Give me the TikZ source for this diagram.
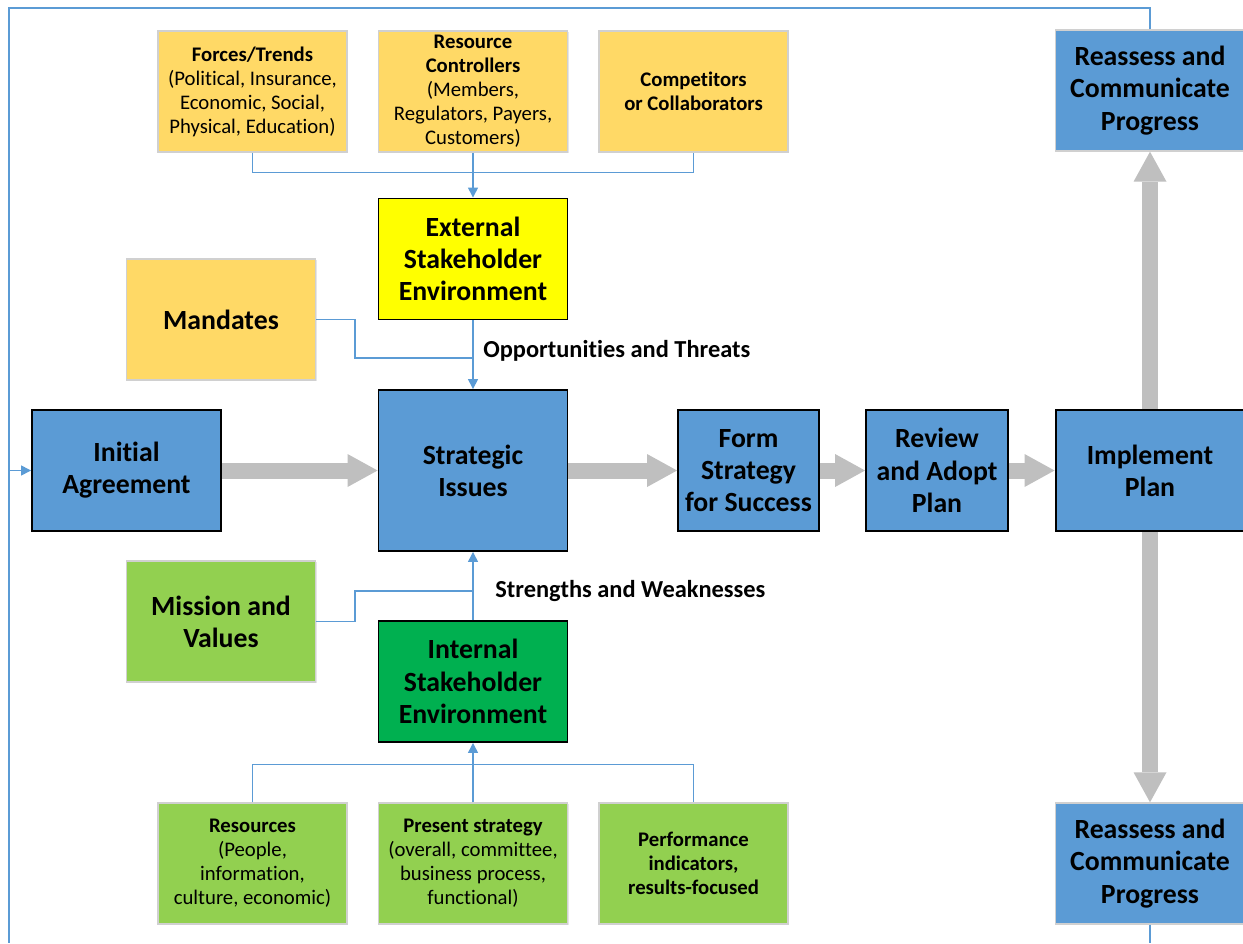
\documentclass[tikz,border=0pt]{standalone}
\usepackage{fontspec}
\setmainfont[Ligatures=NoCommon]{Carlito}
\usetikzlibrary{arrows.meta, positioning, shadows}
\definecolor{boxblue}{HTML}{5B9BD5}
\definecolor{linkblue}{HTML}{5B9BD5}
\definecolor{sand}{HTML}{FFD966}
\definecolor{lime}{HTML}{92D050}
\definecolor{leaf}{HTML}{00B050}
\definecolor{lemon}{HTML}{FFFF00}
\definecolor{fatgray}{HTML}{BFBFBF}
\definecolor{softedge}{HTML}{D0D0D0}

\begin{document}
\begin{tikzpicture}[x=0.02cm, y=-0.02cm,
  big/.style={font=\fontsize{15.8}{18.3}\selectfont\bfseries, align=center, inner sep=0pt},
  small/.style={font=\fontsize{11.8}{13.7}\selectfont, align=center, inner sep=0pt},
  keybox/.style={big, draw=black, line width=1.1pt, minimum width=3.78cm, minimum height=2.42cm},
  softbox/.style={draw=softedge, line width=0.8pt, minimum width=3.78cm, minimum height=2.42cm,
    drop shadow={shadow xshift=0.8pt, shadow yshift=-0.8pt, opacity=0.2, fill=black!50}},
  tag/.style={font=\fontsize{13.9}{16}\selectfont\bfseries, inner sep=0pt},
  link/.style={draw=linkblue, line width=0.8pt},
  tip/.style={-{Triangle[length=0.2cm, width=0.2cm]}},
  fat/.style={draw=fatgray, line width=0.32cm, -{Triangle[length=0.6cm, width=0.66cm, line width=0pt]}}]
  \useasboundingbox (0,0) rectangle (1243,943);
  % drivers outside the organisation
  \node[softbox, small, fill=sand] (forces) at (252.5,91.5)
    {\textbf{Forces/Trends}\\(Political, Insurance,\\Economic, Social,\\Physical, Education)};
  \node[softbox, small, fill=sand] (controllers) at (473,91.5)
    {\textbf{Resource}\\\textbf{Controllers}\\(Members,\\Regulators, Payers,\\Customers)};
  \node[softbox, small, fill=sand] (rivals) at (693.5,91.5)
    {\textbf{Competitors}\\\textbf{or Collaborators}};
  \node[keybox, fill=lemon] (external) at (473,259) {External\\Stakeholder\\Environment};
  \node[softbox, big, fill=sand] (mandates) at (221,319.5) {Mandates};
  % main line
  \node[keybox, fill=boxblue, minimum height=3.22cm] (strategic) at (473,470.5) {Strategic\\Issues};
  \node[keybox, fill=boxblue] (initial) at (126.5,470.5) {Initial\\Agreement};
  \node[keybox, fill=boxblue, minimum width=2.82cm] (form) at (748.5,470.5) {Form\\Strategy\\for Success};
  \node[keybox, fill=boxblue, minimum width=2.84cm] (review) at (937,470.5) {Review\\and Adopt\\Plan};
  \node[keybox, fill=boxblue] (implement) at (1150,470.5) {Implement\\Plan};
  \node[softbox, big, fill=boxblue] (rptop) at (1150,90.5) {Reassess and\\Communicate\\Progress};
  \node[softbox, big, fill=boxblue] (rpbot) at (1150,863.5) {Reassess and\\Communicate\\Progress};
  % drivers inside the organisation
  \node[softbox, big, fill=lime] (mission) at (221,621.5) {Mission and\\Values};
  \node[keybox, fill=leaf] (internal) at (473,681.5) {Internal\\Stakeholder\\Environment};
  \node[softbox, small, fill=lime] (resources) at (252.5,863.5)
    {\textbf{Resources}\\(People,\\information,\\culture, economic)};
  \node[softbox, small, fill=lime] (present) at (473,863.5)
    {\textbf{Present strategy}\\(overall, committee,\\business process,\\functional)};
  \node[softbox, small, fill=lime, font=\fontsize{11.8}{13.7}\selectfont\bfseries] (perf) at (693.5,863.5)
    {Performance\\indicators,\\results-focused};
  % labels
  \node[tag, anchor=west] (ot) at (483,351) {Opportunities and Threats};
  \node[tag, anchor=west] (sw) at (495,591) {Strengths and Weaknesses};
  % join points
  \coordinate (otjoin) at (473,358);
  \coordinate (swjoin) at (473,591);
  \coordinate (loopnw) at (9,8);
  \coordinate (loopsw) at (9,943);
  \coordinate (loopse) at (1150,943);
  % thin connectors
  \draw[link] (forces.south) -- ++(0,20) -| (rivals.south);
  \draw[link, tip] (controllers.south) -- (external.north);
  \draw[link, tip] (external.south) -- (strategic.north);
  \draw[link] (mandates.east) -- ++(39,0) |- (otjoin);
  \draw[link, tip] (internal.north) -- (strategic.south);
  \draw[link] (mission.east) -- ++(39,0) |- (swjoin);
  \draw[link] (resources.north) -- ++(0,-38) -| (perf.north);
  \draw[link, tip] (present.north) -- (internal.south);
  % feedback loop
  \draw[link] (rptop.north) |- (loopnw) -- (loopsw);
  \draw[link] (rpbot.south) -- (loopse);
  \draw[link, tip] (loopnw |- initial.west) -- (initial.west);
  % process arrows
  \draw[fat] (initial) -- (strategic);
  \draw[fat] (strategic) -- (form);
  \draw[fat] (form) -- (review);
  \draw[fat] (review) -- (implement);
  \draw[fat] (implement) -- (rptop);
  \draw[fat] (implement) -- (rpbot);
\end{tikzpicture}
\end{document}
